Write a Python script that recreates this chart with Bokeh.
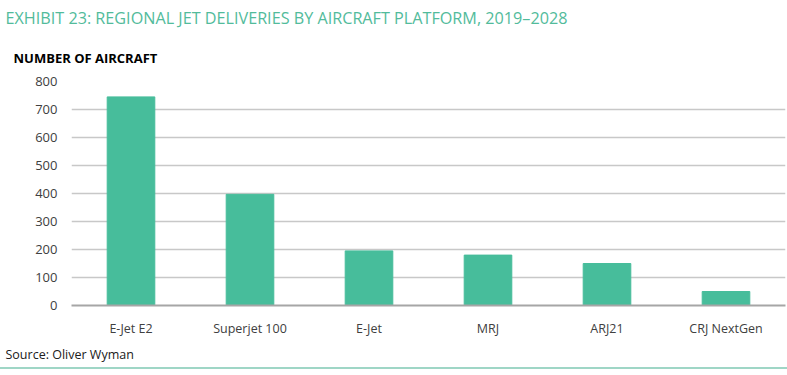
from bokeh.plotting import figure
from bokeh.models import Title, FactorRange, SingleIntervalTicker, Spacer
from bokeh.layouts import column
from bokeh.embed import file_html
from bokeh.resources import INLINE

platforms = ["E-Jet E2", "Superjet 100", "E-Jet", "MRJ", "ARJ21", "CRJ NextGen"]
deliveries = [745, 397, 195, 180, 150, 50]

title_text = "EXHIBIT 23: REGIONAL JET DELIVERIES BY AIRCRAFT PLATFORM, 2019\u20132028"
ylabel_text = "NUMBER OF AIRCRAFT"
source_text = "Source: Oliver Wyman"

TEAL = "#47BD9B"
TITLE_TEAL = "#52BB9B"
FONT = "Open Sans"
FL = 71

p = figure(x_range=FactorRange(*platforms), y_range=(0, 800),
           width=787, height=367, output_backend="svg", toolbar_location=None,
           min_border_left=FL, min_border_right=2, min_border_top=81, min_border_bottom=62)
p.outline_line_color = None
p.background_fill_color = "white"
p.border_fill_color = "white"

p.vbar(x=platforms, top=deliveries, width=0.4, color=TEAL)

p.yaxis.ticker = SingleIntervalTicker(interval=100)
p.yaxis.axis_line_color = None
p.yaxis.major_tick_line_color = None
p.yaxis.minor_tick_line_color = None
p.yaxis.major_label_text_font = FONT
p.yaxis.major_label_text_font_size = "13px"
p.yaxis.major_label_text_color = "#404040"
p.yaxis.major_label_standoff = 8

p.xaxis.axis_line_color = "#A6A6A6"
p.xaxis.axis_line_width = 2
p.xaxis.major_tick_line_color = None
p.xaxis.minor_tick_line_color = None
p.xaxis.major_label_text_font = FONT
p.xaxis.major_label_text_font_size = "12.5px"
p.xaxis.major_label_text_color = "#404040"
p.xaxis.major_label_standoff = 8

p.xgrid.grid_line_color = None
p.ygrid.grid_line_color = "#C8C8C8"
p.ygrid.grid_line_width = 1.5

ylab = Title(text=ylabel_text, align="left", offset=13 - FL, text_font=FONT,
             text_font_size="13px", text_font_style="bold", text_color="#000000",
             standoff=30)
main = Title(text=title_text, align="left", offset=5 - FL, text_font=FONT,
             text_font_size="16.2px", text_font_style="normal", text_color=TITLE_TEAL,
             standoff=5)
p.add_layout(ylab, "above")
p.add_layout(main, "above")

src = Title(text=source_text, align="left", offset=5 - FL, text_font=FONT,
            text_font_size="12.5px", text_font_style="normal", text_color="#202020",
            standoff=8)
p.add_layout(src, "below")

rule = Spacer(width=787, height=2, styles={"background-color": "#9FD6C6"})

layout = column(p, rule, spacing=0)
open("out.html", "w").write(file_html(layout, INLINE))
